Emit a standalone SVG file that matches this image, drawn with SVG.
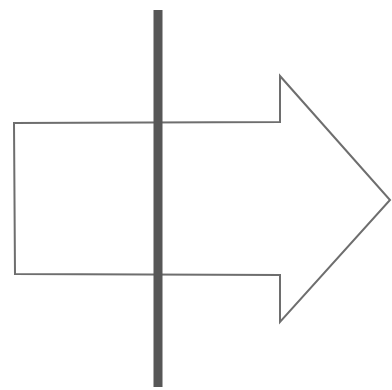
<svg xmlns="http://www.w3.org/2000/svg" width="392" height="390" viewBox="0 0 392 390">
<style>
.outline{fill:#fff;stroke:#6e6e6e;stroke-width:2;stroke-linejoin:miter}
.bar{stroke:#575757;stroke-width:9}
</style>
<rect width="392" height="390" fill="#fff"/>
<g id="arrow">
<path class="outline" d="M14,123 L280,122 L280,76 L390,200 L280,322 L280,275 L15,274 Z"/>
</g>
<g id="connectors">
<line class="bar" x1="158" y1="10" x2="158" y2="387"/>
</g>
</svg>
